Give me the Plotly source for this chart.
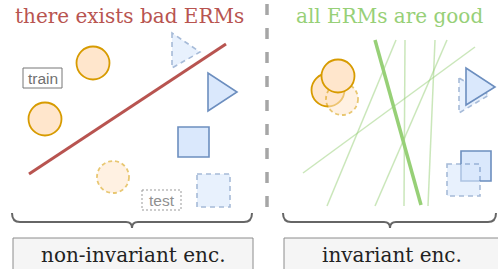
import plotly.graph_objects as go

# ---------------- data (diagram geometry in pixel space) ----------------
titles = ["there exists bad ERMs", "all ERMs are good"]
title_x = [129, 389]
labels = ["non-invariant enc.", "invariant enc."]
label_x = [133, 392]
tags = ["train", "test"]

# left panel: non-invariant encoder
left_train_circles = [[93, 63], [45, 119]]
left_test_circles = [[113, 177]]
left_train_triangles = [[[208, 73], [208, 111], [237, 92]]]
left_test_triangles = [[[172, 33], [172, 68], [200, 52]]]
left_train_squares = [[178, 127, 209, 157]]
left_test_squares = [[197, 174, 230, 207]]
bad_erm = [[29, 174], [226, 44]]

# right panel: invariant encoder
right_train_circles = [[328, 90]]
right_test_circles = [[342, 99]]
right_top_circles = [[338, 76]]
right_test_triangles = [[[459, 78], [459, 113], [489, 95]]]
right_train_triangles = [[[466, 68], [466, 105], [495, 87]]]
right_train_squares = [[461, 151, 491, 181]]
right_test_squares = [[447, 164, 480, 196]]
good_erm_main = [[375, 40], [421, 205]]
good_erms = [
    [[396, 40], [327, 206]],
    [[405, 40], [404, 206]],
    [[435, 40], [428, 206]],
    [[447, 40], [375, 206]],
    [[475, 47], [303, 173]],
]

train_box = [23, 68, 62, 88]
test_box = [142, 190, 181, 210]
braces = [[12, 132, 252], [283, 390, 496]]
boxes = [[13, 238, 253, 280], [284, 238, 530, 280]]
divider = [[267, 4], [267, 207]]

# ---------------- styles ----------------
ORANGE_F, ORANGE_L = "#ffe6cc", "#d79b00"
BLUE_F, BLUE_L = "#dae8fc", "#6c8ebf"
RED = "#b85450"
GREEN = "#97d077"
R_CIRC = 16.5
SERIF = "DejaVu Serif"

shapes = []


def circle(c, test=False):
    r = 16 if test else R_CIRC
    shapes.append(dict(type="circle", xref="x", yref="y",
                       x0=c[0] - r, x1=c[0] + r, y0=c[1] - r, y1=c[1] + r,
                       fillcolor=ORANGE_F, opacity=0.55 if test else 1,
                       line=dict(color=ORANGE_L, width=1.8,
                                 dash="4px,3px" if test else "solid")))


def triangle(pts, test=False):
    p = "M {},{} L {},{} L {},{} Z".format(*pts[0], *pts[1], *pts[2])
    shapes.append(dict(type="path", xref="x", yref="y", path=p,
                       fillcolor=BLUE_F, opacity=0.6 if test else 1,
                       line=dict(color=BLUE_L, width=1.6,
                                 dash="5px,4px" if test else "solid")))


def square(s, test=False):
    shapes.append(dict(type="rect", xref="x", yref="y",
                       x0=s[0], y0=s[1], x1=s[2], y1=s[3],
                       fillcolor=BLUE_F, opacity=0.6 if test else 1,
                       line=dict(color=BLUE_L, width=1.6,
                                 dash="5px,4px" if test else "solid")))


def seg(a, color, width, opacity=1, dash="solid"):
    shapes.append(dict(type="line", xref="x", yref="y",
                       x0=a[0][0], y0=a[0][1], x1=a[1][0], y1=a[1][1],
                       opacity=opacity, line=dict(color=color, width=width, dash=dash)))


# divider
seg(divider, "#a6a6a6", 3.5, dash="11px,13px")

# left panel
for c in left_train_circles:
    circle(c)
for c in left_test_circles:
    circle(c, True)
for t in left_test_triangles:
    triangle(t, True)
for t in left_train_triangles:
    triangle(t)
for s in left_train_squares:
    square(s)
for s in left_test_squares:
    square(s, True)
seg(bad_erm, RED, 3)

# right panel
for l in good_erms:
    seg(l, GREEN, 1.5, opacity=0.5)
seg(good_erm_main, GREEN, 3.5)
for c in right_train_circles:
    circle(c)
for c in right_test_circles:
    circle(c, True)
for c in right_top_circles:
    circle(c)
for t in right_test_triangles:
    triangle(t, True)
for t in right_train_triangles:
    triangle(t)
for s in right_train_squares:
    square(s)
for s in right_test_squares:
    square(s, True)

# tag boxes
shapes.append(dict(type="rect", xref="x", yref="y", x0=train_box[0], y0=train_box[1],
                   x1=train_box[2], y1=train_box[3], line=dict(color="#777777", width=1)))
shapes.append(dict(type="rect", xref="x", yref="y", x0=test_box[0], y0=test_box[1],
                   x1=test_box[2], y1=test_box[3],
                   line=dict(color="#999999", width=1, dash="2px,2px")))

# braces
for l, m, r in braces:
    p = (f"M {l},213 Q {l},222 {l+8},222 L {m-6},222 Q {m},222 {m},228 "
         f"Q {m},222 {m+6},222 L {r-8},222 Q {r},222 {r},213")
    shapes.append(dict(type="path", xref="x", yref="y", path=p,
                       line=dict(color="#666666", width=2)))

# label boxes
for b in boxes:
    shapes.append(dict(type="rect", xref="x", yref="y", x0=b[0], y0=b[1], x1=b[2], y1=b[3],
                       fillcolor="#f5f5f5", line=dict(color="#8c8c8c", width=1)))

annotations = []
for t, x, col in zip(titles, title_x, [RED, GREEN]):
    annotations.append(dict(text=t, x=x, y=16, xref="x", yref="y", showarrow=False,
                            xanchor="center", yanchor="middle",
                            font=dict(family=SERIF, size=20, color=col)))
for t, x in zip(labels, label_x):
    annotations.append(dict(text=t, x=x, y=255, xref="x", yref="y", showarrow=False,
                            xanchor="center", yanchor="middle",
                            font=dict(family=SERIF, size=20, color="#222222")))
annotations.append(dict(text=tags[0], x=(train_box[0] + train_box[2]) / 2,
                        y=(train_box[1] + train_box[3]) / 2 + 0.5, xref="x", yref="y",
                        showarrow=False, font=dict(family="Liberation Sans", size=15.5,
                                                   color="#707070")))
annotations.append(dict(text=tags[1], x=(test_box[0] + test_box[2]) / 2,
                        y=(test_box[1] + test_box[3]) / 2 + 0.5, xref="x", yref="y",
                        showarrow=False, font=dict(family="Liberation Sans", size=15.5,
                                                   color="#909090")))

fig = go.Figure()
fig.update_layout(
    width=498, height=269,
    margin=dict(l=0, r=0, t=0, b=0),
    paper_bgcolor="white", plot_bgcolor="white",
    xaxis=dict(range=[0, 498], visible=False, fixedrange=True),
    yaxis=dict(range=[269, 0], visible=False, fixedrange=True),
    shapes=shapes, annotations=annotations, showlegend=False,
)
fig.write_html("out.html", config={"displayModeBar": False},
               post_script="document.body.style.margin='0';document.body.style.overflow='hidden';")
